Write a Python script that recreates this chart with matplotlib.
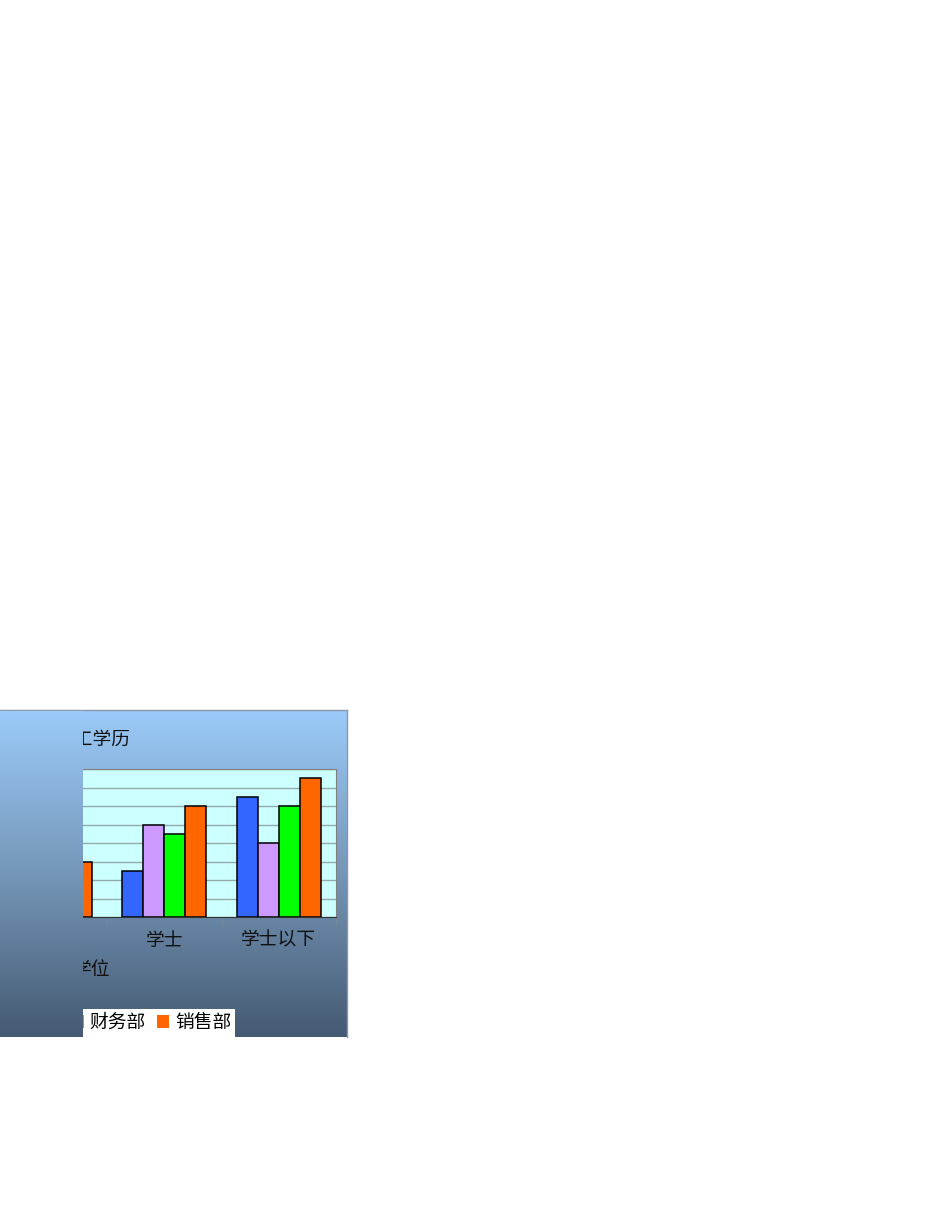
import matplotlib
matplotlib.use("Agg")
import matplotlib.pyplot as plt
import numpy as np
from matplotlib.colors import LinearSegmentedColormap
from matplotlib.patches import Patch

plt.rcParams['font.family'] = ['Noto Sans CJK SC', 'DejaVu Sans']

# data (left part of the chart is cut off in the reference)
categories = ["博士", "硕士", "学士", "学士以下"]
departments = ["行政部", "技术部", "财务部", "销售部"]
admin = [1.0, 2.0, 2.5, 6.5]
tech = [0.5, 3.5, 5.0, 4.0]
finance = [1.0, 1.5, 4.5, 6.0]
sales = [1.5, 3.0, 6.0, 7.5]
series = [admin, tech, finance, sales]
colors = ["#3366FF", "#CC99FF", "#00FF00", "#FF6600"]

W, H = 950, 1230
CUT = 83  # everything left of this pixel column is hidden in the reference


def fx(px):
    return px / W


def fy(py):
    return 1 - py / H


fig = plt.figure(figsize=(9.5, 12.3), dpi=100)

grad_cmap = LinearSegmentedColormap.from_list("bg", ["#9BCBF9", "#7596B8", "#455A72"])
grad = np.linspace(0, 1, 256).reshape(-1, 1)

# chart background
bg = fig.add_axes([0, fy(1037), fx(347), (1037 - 710) / H], zorder=0)
bg.imshow(grad, cmap=grad_cmap, aspect='auto', extent=[0, 1, 0, 1], vmin=0, vmax=1)
bg.set_xticks([])
bg.set_yticks([])
for side in ["left", "bottom"]:
    bg.spines[side].set_visible(False)
for side in ["top", "right"]:
    bg.spines[side].set_color("#8A98A8")
    bg.spines[side].set_linewidth(1)

# plot area
ax = fig.add_axes([fx(-122), fy(917.3), fx(336 + 122), (917.3 - 769) / H], zorder=1)
ax.set_facecolor("#CCFFFF")
x = np.arange(len(categories))
bw = 0.1834
for i, (vals, c) in enumerate(zip(series, colors)):
    ax.bar(x + (i - 1.5) * bw, vals, width=bw, color=c, edgecolor="black",
           linewidth=1.1, zorder=3)

ax.set_xlim(-0.5, len(categories) - 0.5)
ax.set_ylim(0, 8)
ax.set_yticks(range(0, 9))
ax.tick_params(axis='y', labelleft=False, length=0)
ax.grid(axis='y', color="#94AAAA", linewidth=1, zorder=0)
ax.set_axisbelow(True)
ax.set_xticks(x, categories, fontsize=13.5)
ax.set_xticks(np.arange(-0.5, len(categories)), minor=True)
ax.tick_params(axis='x', which='major', length=0, pad=9, colors="#111111")
ax.tick_params(axis='x', which='minor', length=6, color="#7A8A99", direction='out')
ax.spines["bottom"].set_color("#333333")
ax.spines["top"].set_color("#808080")
ax.spines["right"].set_color("#808080")

handles = [Patch(facecolor=c, edgecolor='none') for c in colors]
leg = ax.legend(handles, departments, ncol=4, loc='lower right',
                bbox_to_anchor=(fx(235), fy(1037)), bbox_transform=fig.transFigure,
                fontsize=13.5, frameon=True, fancybox=False, borderaxespad=0,
                handlelength=0.65, handleheight=0.65, handletextpad=0.3,
                columnspacing=0.6, borderpad=0.2)
leg.get_frame().set_facecolor("white")
leg.get_frame().set_edgecolor("none")
leg.get_frame().set_alpha(1)

fig.text(fx(131), fy(740), "员工学历", ha='right', va='center', fontsize=13.5, color="#111111")
fig.text(fx(110), fy(970), "学位", ha='right', va='center', fontsize=13.5, color="#111111")

# texts lying wholly in the hidden strip are not shown
fig.canvas.draw()
renderer = fig.canvas.get_renderer()
for t in ax.get_xticklabels() + leg.get_texts():
    if t.get_window_extent(renderer).x1 < CUT:
        t.set_visible(False)

# left strip of plain background covering the clipped part
t0 = (711 - 710) / (1037 - 710)
ov = fig.add_axes([0, fy(1037), fx(CUT), (1037 - 711) / H], zorder=5)
ov.imshow(np.linspace(t0, 1, 256).reshape(-1, 1), cmap=grad_cmap, aspect='auto',
          extent=[0, 1, 0, 1], vmin=0, vmax=1)
ov.axis('off')

fig.savefig("out.png", dpi=100)
